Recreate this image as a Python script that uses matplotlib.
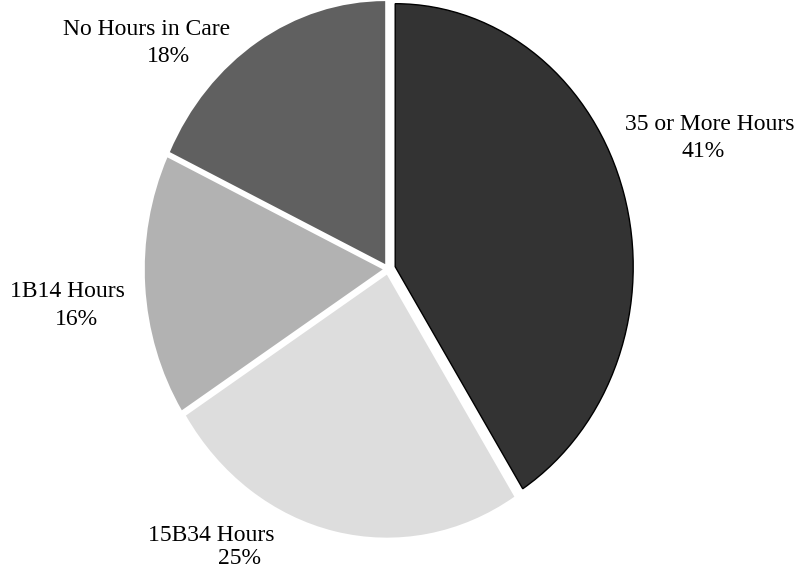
import matplotlib
matplotlib.use("Agg")
import matplotlib.pyplot as plt

categories = ["35 or More Hours", "15B34 Hours", "1B14 Hours", "No Hours in Care"]
values = [41, 25, 16, 18]
pct_labels = ["41%", "25%", "16%", "18%"]
colors = ["#333333", "#dddddd", "#b2b2b2", "#606060"]

W, H = 798, 571
fig = plt.figure(figsize=(W / 100, H / 100), dpi=100)
plt.rcParams['font.family'] = ['Liberation Serif', 'DejaVu Serif']

cx, cy, rx, ry = 388, 269, 238, 263
ax = fig.add_axes([(cx - rx) / W, 1 - (cy + ry) / H, 2 * rx / W, 2 * ry / H])
wedges, _ = ax.pie(values, colors=colors, startangle=90, counterclock=False,
                   explode=[0.0315, 0.022, 0.022, 0.022],
                   wedgeprops=dict(linewidth=0))
wedges[0].set_edgecolor("black")
wedges[0].set_linewidth(1.0)
wedges[0].set_zorder(5)
for w in wedges:
    w.set_clip_on(False)
ax.set_aspect("auto")
ax.set_xlim(-1, 1)
ax.set_ylim(-1, 1)
ax.axis("off")

# label placement (left x, baseline y) in pixels, line1 and line2
label_pos = [((625, 130), (682, 157)),
             ((148, 541), (218, 564)),
             ((10, 297), (55, 325)),
             ((63, 35), (147, 62))]
for cat, pct, (p1, p2) in zip(categories, pct_labels, label_pos):
    fig.text(p1[0] / W, 1 - p1[1] / H, cat, ha="left", va="baseline", fontsize=17)
    fig.text(p2[0] / W, 1 - p2[1] / H, pct, ha="left", va="baseline", fontsize=17)

fig.savefig("out.png", dpi=100, facecolor="white")
